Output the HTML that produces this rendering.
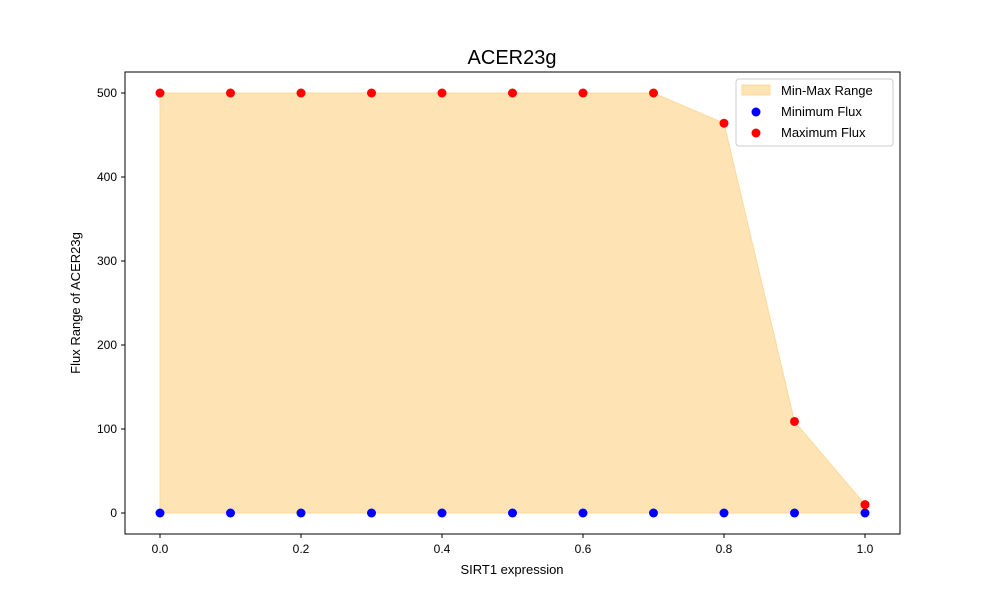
<!DOCTYPE html>
<html><head><meta charset="utf-8"><style>
body{margin:0;background:#fff;}
svg text{font-family:"Liberation Sans","DejaVu Sans",sans-serif;}
</style></head><body>
<svg id="chart" width="1000" height="600" xmlns="http://www.w3.org/2000/svg">
<rect width="1000" height="600" fill="#fff"/>
<g id="plot"></g>
<rect x="125" y="72" width="775" height="462" fill="none" stroke="#000" stroke-width="1"/>
<text x="512" y="64" font-size="20" text-anchor="middle">ACER23g</text>
<text x="512" y="574" font-size="13" text-anchor="middle">SIRT1 expression</text>
<text transform="translate(80,303) rotate(-90)" font-size="13" text-anchor="middle">Flux Range of ACER23g</text>
<g>
<rect x="736" y="79" width="157" height="67" rx="3" fill="#fff" fill-opacity="0.8" stroke="#ccc"/>
<rect x="742" y="85" width="28" height="10" fill="#fdd99b" fill-opacity="0.75" stroke="#fdd99b"/>
<text x="781" y="95" font-size="13">Min-Max Range</text>
<circle cx="756" cy="112" r="4.5" fill="#0000ff"/>
<text x="781" y="116" font-size="13">Minimum Flux</text>
<circle cx="756" cy="133" r="4.5" fill="#ff0000"/>
<text x="781" y="137" font-size="13">Maximum Flux</text>
</g>
</svg>
<script>
const xValues=[0,0.1,0.2,0.3,0.4,0.5,0.6,0.7,0.8,0.9,1.0];
const minFlux=[0,0,0,0,0,0,0,0,0,0,0];
const maxFlux=[500,500,500,500,500,500,500,500,464,109,10];
const xTicks=[0,0.2,0.4,0.6,0.8,1.0];
const yTicks=[0,100,200,300,400,500];
const NS="http://www.w3.org/2000/svg";
const sx=v=>160+v*705;
const sy=v=>513-v*0.84;
const g=document.getElementById('plot');
function mk(t,a){const e=document.createElementNS(NS,t);for(const k in a)e.setAttribute(k,a[k]);g.appendChild(e);return e;}
let pts=xValues.map((x,i)=>sx(x)+','+sy(maxFlux[i]));
for(let i=xValues.length-1;i>=0;i--)pts.push(sx(xValues[i])+','+sy(minFlux[i]));
const poly=mk('polygon',{points:pts.join(' '),fill:'#fdd99b','fill-opacity':'0.75',stroke:'#fdd99b'});


xTicks.forEach(t=>{
 const l=mk('line',{x1:sx(t),x2:sx(t),y1:534,y2:538,stroke:'#000'});
 
 
 const tx=mk('text',{x:sx(t),y:553,'font-size':12,'text-anchor':'middle'});tx.textContent=t.toFixed(1);
 
 
});
yTicks.forEach(t=>{
 const l=mk('line',{x1:121,x2:125,y1:sy(t),y2:sy(t),stroke:'#000'});
 
 
 const tx=mk('text',{x:117,y:sy(t)+4,'font-size':12,'text-anchor':'end'});tx.textContent=t;
 
 
});
xValues.forEach((x,i)=>{
 const a=mk('circle',{cx:sx(x),cy:sy(minFlux[i]),r:4.5,fill:'#0000ff'});
 
 
});
xValues.forEach((x,i)=>{
 const b=mk('circle',{cx:sx(x),cy:sy(maxFlux[i]),r:4.5,fill:'#ff0000'});
 
 
});
</script>
</body></html>
